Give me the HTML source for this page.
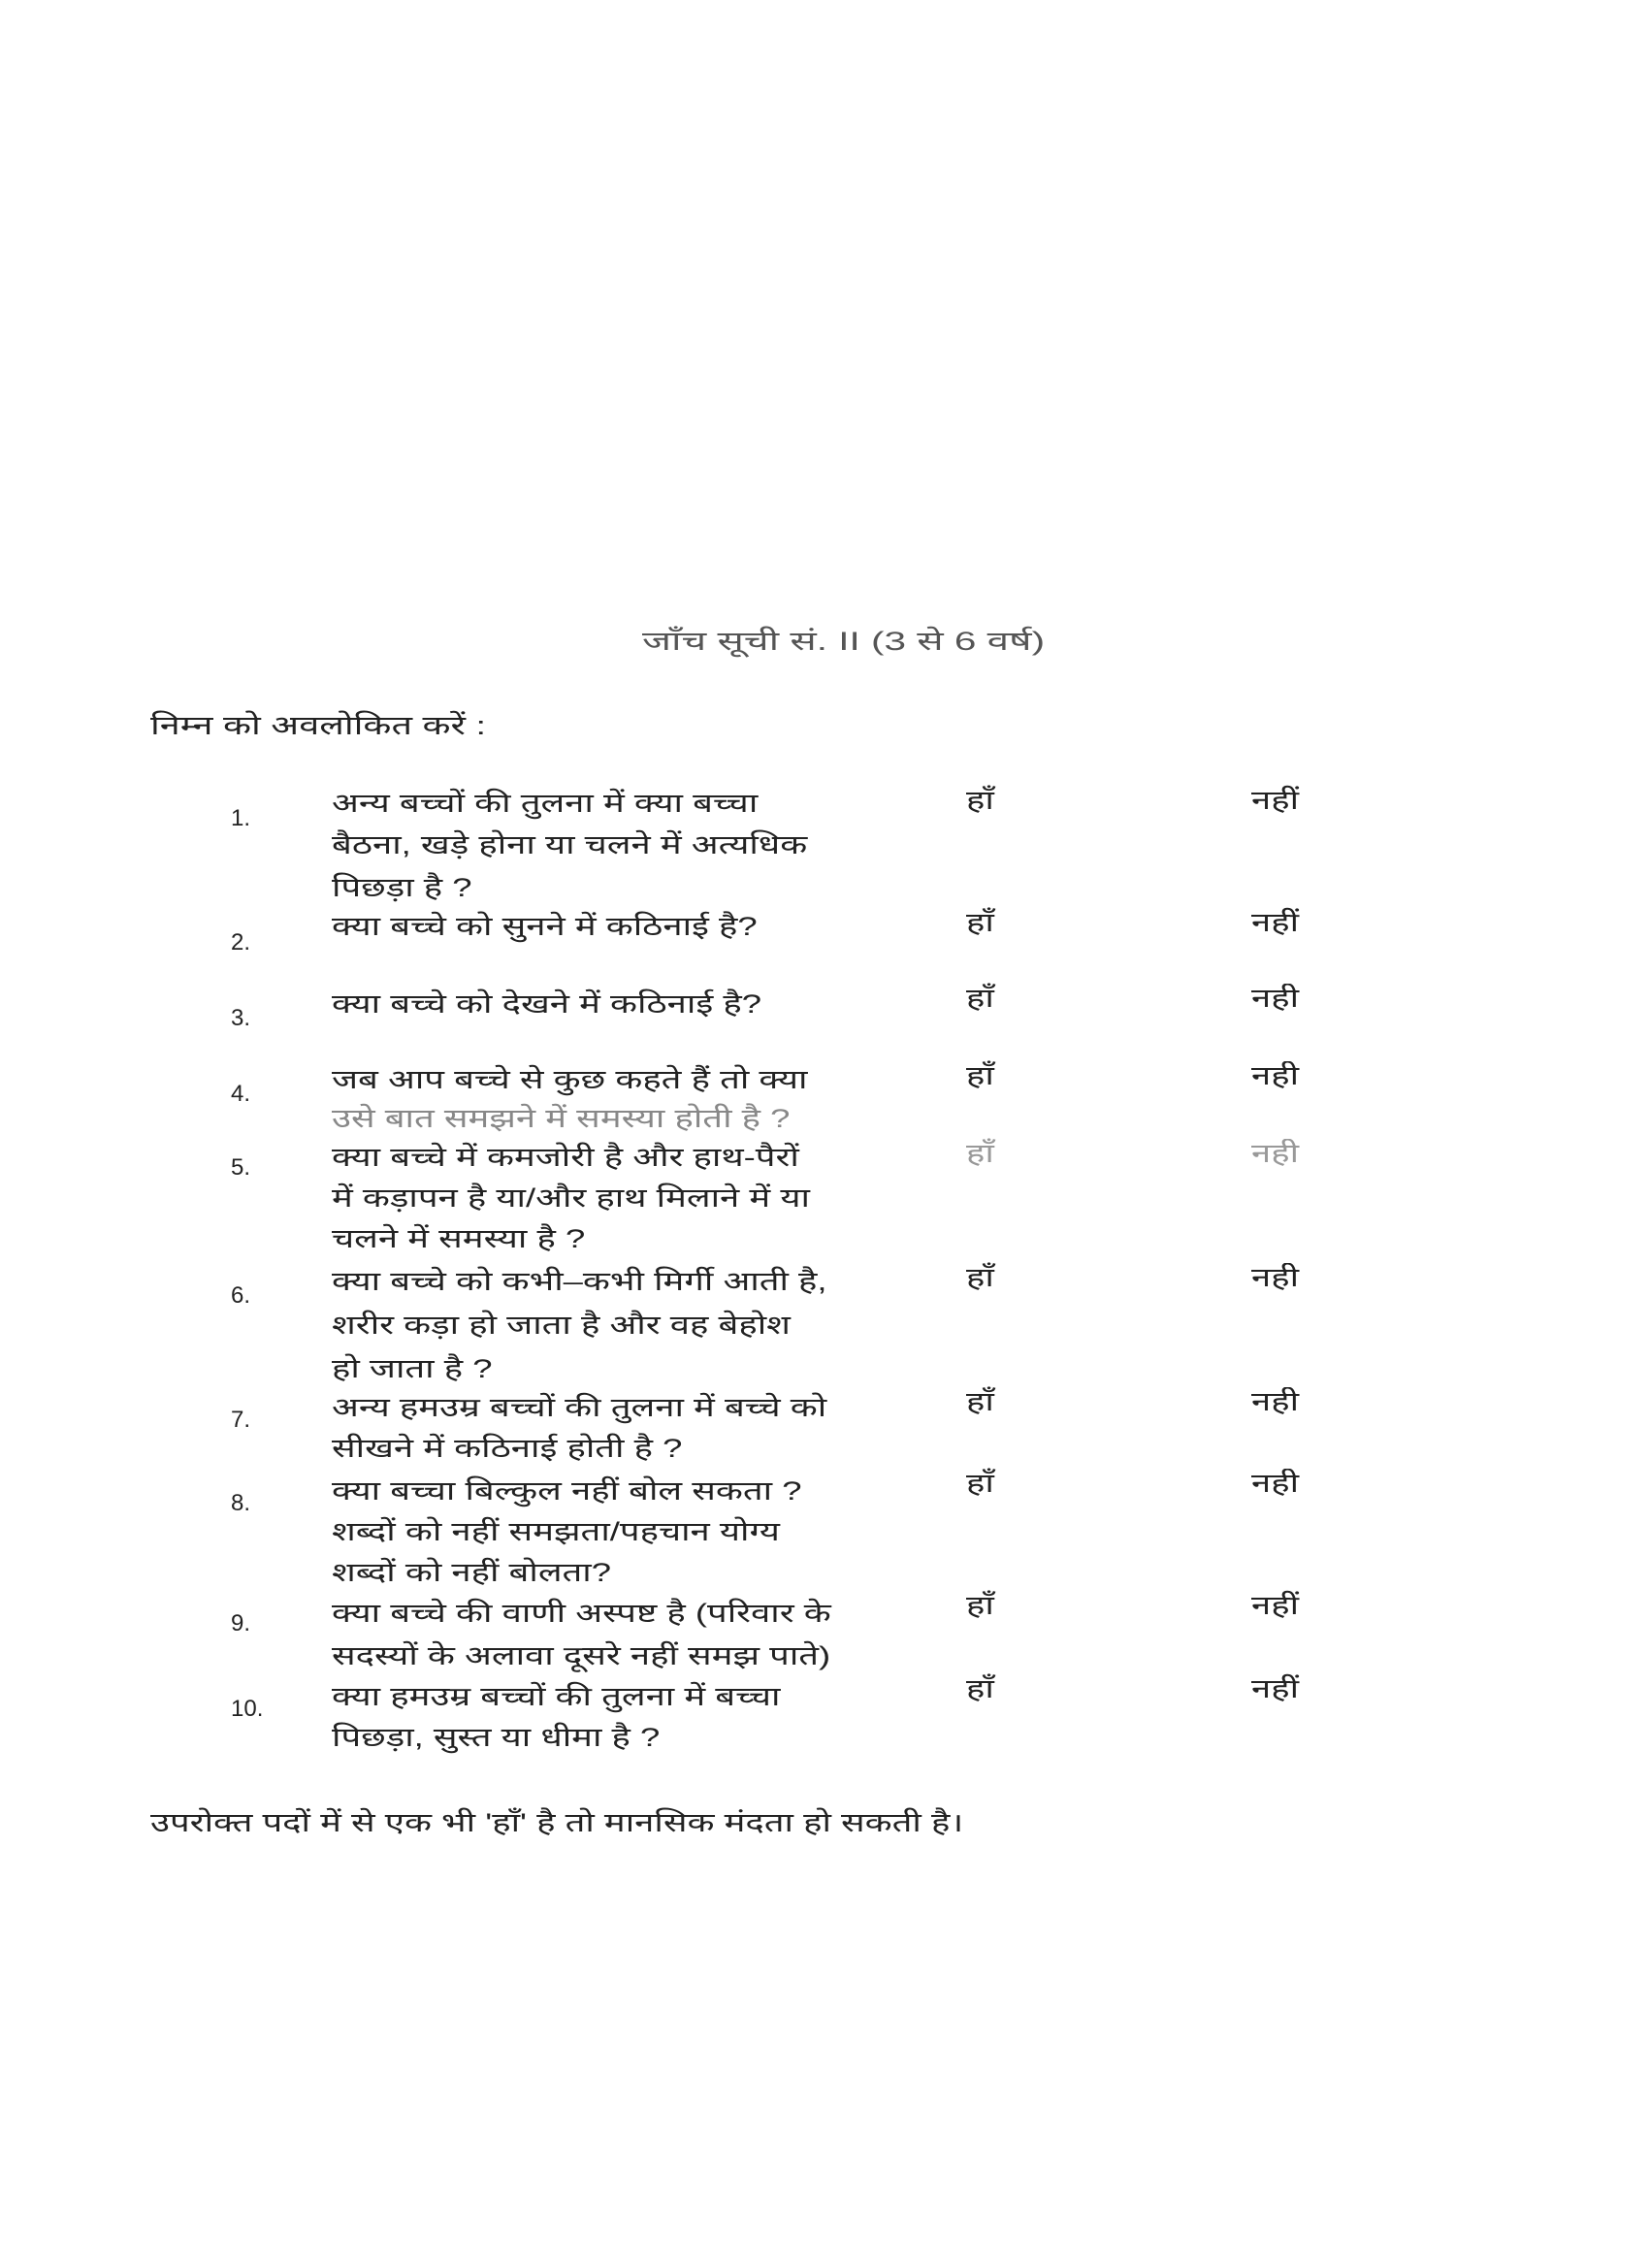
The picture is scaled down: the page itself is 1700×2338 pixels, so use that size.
<!DOCTYPE html>
<html><head><meta charset="utf-8">
<style>
html,body{margin:0;padding:0;background:#fff;}
body{width:1700px;height:2338px;position:relative;overflow:hidden;
font-family:"Liberation Sans","Noto Sans Devanagari","Lohit Devanagari","DejaVu Sans",sans-serif;color:#222;font-size:27px;}
.t{position:absolute;white-space:nowrap;line-height:1;transform:scaleX(1.35);transform-origin:0 0;}
.n{position:absolute;white-space:nowrap;font-size:24px;}
</style></head><body>
<div class="t" style="left:662px;top:648px;color:#555;transform:scaleX(1.5);">जाँच सूची सं. II (3 से 6 वर्ष)</div>
<div class="t" style="left:155px;top:735px;transform:scaleX(1.4);">निम्न को अवलोकित करें :</div>

<div class="n" style="left:238px;top:830px;">1.</div>
<div class="t" style="left:342px;top:815px;">अन्य बच्चों की तुलना में क्या बच्चा</div>
<div class="t" style="left:342px;top:858px;">बैठना, खड़े होना या चलने में अत्यधिक</div>
<div class="t" style="left:342px;top:902px;">पिछड़ा है ?</div>
<div class="t" style="left:996px;top:812px;">हाँ</div>
<div class="t" style="left:1290px;top:812px;">नहीं</div>

<div class="n" style="left:238px;top:958px;">2.</div>
<div class="t" style="left:342px;top:942px;">क्या बच्चे को सुनने में कठिनाई है?</div>
<div class="t" style="left:996px;top:938px;">हाँ</div>
<div class="t" style="left:1290px;top:938px;">नहीं</div>

<div class="n" style="left:238px;top:1036px;">3.</div>
<div class="t" style="left:342px;top:1022px;">क्या बच्चे को देखने में कठिनाई है?</div>
<div class="t" style="left:996px;top:1016px;">हाँ</div>
<div class="t" style="left:1290px;top:1016px;">नही</div>

<div class="n" style="left:238px;top:1114px;">4.</div>
<div class="t" style="left:342px;top:1100px;">जब आप बच्चे से कुछ कहते हैं तो क्या</div>
<div class="t" style="left:342px;top:1140px;color:#888;">उसे बात समझने में समस्या होती है ?</div>
<div class="t" style="left:996px;top:1096px;">हाँ</div>
<div class="t" style="left:1290px;top:1096px;">नही</div>

<div class="n" style="left:238px;top:1190px;">5.</div>
<div class="t" style="left:342px;top:1180px;">क्या बच्चे में कमजोरी है और हाथ-पैरों</div>
<div class="t" style="left:342px;top:1222px;">में कड़ापन है या/और हाथ मिलाने में या</div>
<div class="t" style="left:342px;top:1264px;">चलने में समस्या है ?</div>
<div class="t" style="left:996px;top:1176px;color:#999;">हाँ</div>
<div class="t" style="left:1290px;top:1176px;color:#999;">नही</div>

<div class="n" style="left:238px;top:1322px;">6.</div>
<div class="t" style="left:342px;top:1308px;">क्या बच्चे को कभी–कभी मिर्गी आती है,</div>
<div class="t" style="left:342px;top:1353px;">शरीर कड़ा हो जाता है और वह बेहोश</div>
<div class="t" style="left:342px;top:1398px;">हो जाता है ?</div>
<div class="t" style="left:996px;top:1304px;">हाँ</div>
<div class="t" style="left:1290px;top:1304px;">नही</div>

<div class="n" style="left:238px;top:1450px;">7.</div>
<div class="t" style="left:342px;top:1438px;">अन्य हमउम्र बच्चों की तुलना में बच्चे को</div>
<div class="t" style="left:342px;top:1480px;">सीखने में कठिनाई होती है ?</div>
<div class="t" style="left:996px;top:1432px;">हाँ</div>
<div class="t" style="left:1290px;top:1432px;">नही</div>

<div class="n" style="left:238px;top:1536px;">8.</div>
<div class="t" style="left:342px;top:1524px;">क्या बच्चा बिल्कुल नहीं बोल सकता ?</div>
<div class="t" style="left:342px;top:1566px;">शब्दों को नहीं समझता/पहचान योग्य</div>
<div class="t" style="left:342px;top:1608px;">शब्दों को नहीं बोलता?</div>
<div class="t" style="left:996px;top:1516px;">हाँ</div>
<div class="t" style="left:1290px;top:1516px;">नही</div>

<div class="n" style="left:238px;top:1660px;">9.</div>
<div class="t" style="left:342px;top:1650px;">क्या बच्चे की वाणी अस्पष्ट है (परिवार के</div>
<div class="t" style="left:342px;top:1694px;">सदस्यों के अलावा दूसरे नहीं समझ पाते)</div>
<div class="t" style="left:996px;top:1642px;">हाँ</div>
<div class="t" style="left:1290px;top:1642px;">नहीं</div>

<div class="n" style="left:238px;top:1748px;">10.</div>
<div class="t" style="left:342px;top:1736px;">क्या हमउम्र बच्चों की तुलना में बच्चा</div>
<div class="t" style="left:342px;top:1778px;">पिछड़ा, सुस्त या धीमा है ?</div>
<div class="t" style="left:996px;top:1728px;">हाँ</div>
<div class="t" style="left:1290px;top:1728px;">नहीं</div>

<div class="t" style="left:155px;top:1866px;">उपरोक्त पदों में से एक भी 'हाँ' है तो मानसिक मंदता हो सकती है।</div>
</body></html>
